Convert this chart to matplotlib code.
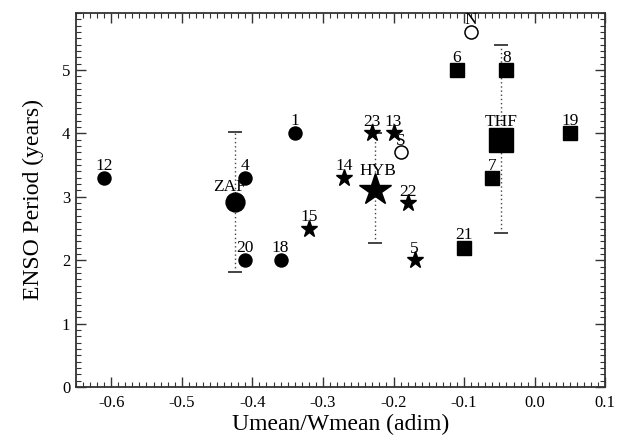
#!/usr/bin/env python

import numpy as np
from matplotlib import pyplot as plt
from matplotlib.ticker import MultipleLocator, FormatStrFormatter

plt.rcParams['font.family'] = ['Liberation Serif', 'DejaVu Serif']
plt.rcParams['axes.unicode_minus'] = False

# individual models, by marker group
circle_x = [-0.61, -0.41, -0.34, -0.41, -0.36]
circle_y = [3.3, 3.3, 4.0, 2.0, 2.0]
circle_lab = ['12', '4', '1', '20', '18']

star_x = [-0.23, -0.20, -0.27, -0.32, -0.18, -0.17]
star_y = [4.0, 4.0, 3.3, 2.5, 2.9, 2.0]
star_lab = ['23', '13', '14', '15', '22', '5']

square_x = [-0.11, -0.04, 0.05, -0.06, -0.10]
square_y = [5.0, 5.0, 4.0, 3.3, 2.2]
square_lab = ['6', '8', '19', '7', '21']

open_x = [-0.19, -0.09]
open_y = [3.7, 5.6]
open_lab = ['S', 'N']

# group means with spread
mean_lab = ['ZAF', 'HYB', 'THF']
mean_x = [-0.425, -0.226, -0.048]
mean_y = [2.92, 3.10, 3.90]
err_lo = [1.82, 2.27, 2.43]
err_hi = [4.02, 4.00, 5.39]

FRAME = '#333333'

fig = plt.figure(figsize=(6.17, 4.37), dpi=100)
ax = fig.add_axes([0.123, 0.1144, 0.858, 0.856])


def label_points(xs, ys, labs, ms, dx=0.0, fs=12.5):
    for x, y, s in zip(xs, ys, labs):
        ax.annotate(s, (x, y), xytext=(dx, ms / 2. + 1.2), textcoords='offset points',
                    ha='center', va='baseline', fontsize=fs)


# error bars (dotted stem, solid caps)
mx = np.array(mean_x)
my = np.array(mean_y)
yerr = [my - np.array(err_lo), np.array(err_hi) - my]
eb = ax.errorbar(mx, my, yerr=yerr, fmt='none', ecolor='#444444', elinewidth=1.0,
                 capsize=5, capthick=1.4, zorder=1)
eb[2][0].set_linestyle((0, (1, 2)))

ax.plot(circle_x, circle_y, 'o', ms=9.4, color='black', zorder=3)
ax.plot(star_x, star_y, '*', ms=12.5, color='black', zorder=3)
ax.plot(square_x, square_y, 's', ms=9.4, color='black', zorder=3)
ax.plot(open_x, open_y, 'o', ms=9.4, mfc='white', mec='black', mew=1.1, zorder=3)

ax.plot(mean_x[0], mean_y[0], 'o', ms=13.6, color='black', zorder=3)
ax.plot(mean_x[1], mean_y[1], '*', ms=24, color='black', zorder=3)
ax.plot(mean_x[2], mean_y[2], 's', ms=17, color='black', zorder=3)

label_points(circle_x, circle_y, circle_lab, 9.4)
label_points(star_x, star_y, star_lab, 8.5)
label_points(square_x, square_y, square_lab, 9.4)
label_points(open_x, open_y, open_lab, 9.0)
label_points(mean_x[:1], mean_y[:1], mean_lab[:1], 13.6, dx=-4)
label_points(mean_x[1:2], mean_y[1:2], mean_lab[1:2], 20, dx=2)
label_points(mean_x[2:], mean_y[2:], mean_lab[2:], 17)

ax.set_xlim(-0.65, 0.1)
ax.set_ylim(0, 5.9)
ax.xaxis.set_major_locator(MultipleLocator(0.1))
ax.xaxis.set_minor_locator(MultipleLocator(0.01))
ax.xaxis.set_major_formatter(FormatStrFormatter('%.1f'))
ax.yaxis.set_major_locator(MultipleLocator(1))
ax.yaxis.set_minor_locator(MultipleLocator(0.1))
ax.yaxis.set_major_formatter(FormatStrFormatter('%d'))

ax.tick_params(which='both', direction='in', top=True, right=True, color=FRAME,
               labelsize=12)
ax.tick_params(which='major', length=7, width=1.0)
ax.tick_params(which='minor', length=3.5, width=0.8)
ax.tick_params(axis='x', pad=6)
ax.tick_params(axis='y', pad=4)
for sp in ax.spines.values():
    sp.set_color(FRAME)
    sp.set_linewidth(1.3)

ax.set_xlabel('Umean/Wmean (adim)', fontsize=17, labelpad=2)
ax.set_ylabel('ENSO Period (years)', fontsize=17, labelpad=13)

fig.canvas.draw()
ax.get_yticklabels()[0].set_verticalalignment('bottom')

fig.savefig('out.png', dpi=100)
